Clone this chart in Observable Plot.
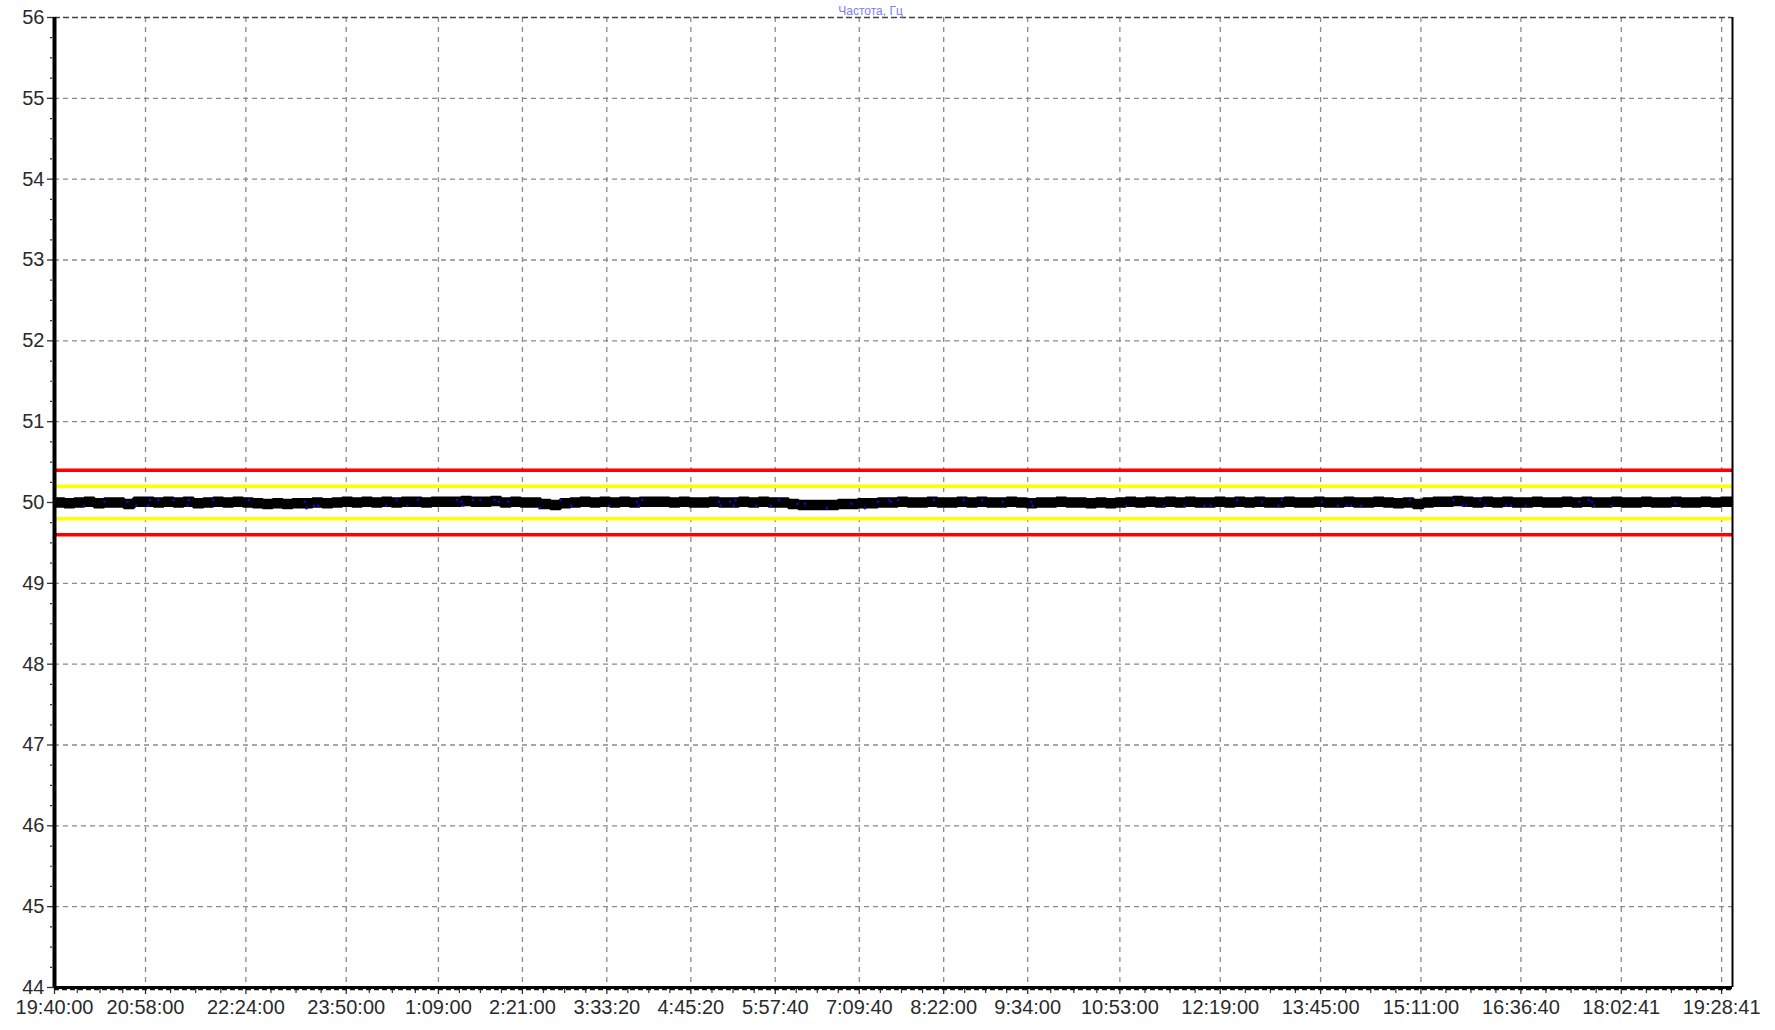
<!DOCTYPE html>
<html>
<head>
<meta charset="utf-8">
<script src="https://cdn.jsdelivr.net/npm/d3@7"></script>
<script src="https://cdn.jsdelivr.net/npm/@observablehq/plot@0.6"></script>
<style>
  html, body { margin: 0; padding: 0; background: #fff; }
  #chart svg { display: block; }
</style>
</head>
<body>
<div id="chart"></div>
<script>
// ---- data ----
const chartTitle = "Частота, Гц";
const startTime = "19:40:00";
const endTime = "19:38:00";
const stepMinutes = 8.5;
const freqValues = [
  50.00, 49.99, 50.00, 50.01, 49.99, 50.00, 50.00, 49.98, 50.01, 50.01,
  50.00, 50.01, 50.00, 50.01, 49.99, 50.00, 50.01, 50.00, 50.01, 50.00,
  49.99, 49.98, 49.99, 49.98, 49.99, 49.99, 50.00, 49.99, 50.00, 50.01,
  50.00, 50.01, 50.00, 50.01, 50.00, 50.01, 50.01, 50.00, 50.01, 50.01,
  50.01, 50.02, 50.01, 50.01, 50.02, 50.00, 50.01, 50.00, 50.00, 49.98,
  49.97, 49.99, 50.00, 50.01, 50.00, 50.01, 50.00, 50.01, 50.00, 50.01,
  50.01, 50.01, 50.00, 50.01, 50.00, 50.00, 50.01, 50.00, 50.00, 50.01,
  50.00, 50.01, 50.00, 50.00, 49.98, 49.97, 49.97, 49.97, 49.97, 49.98,
  49.98, 49.99, 49.99, 50.00, 50.00, 50.01, 50.00, 50.00, 50.01, 50.00,
  50.00, 50.01, 50.00, 50.01, 50.00, 50.00, 50.01, 50.00, 49.99, 50.00,
  50.00, 50.01, 50.00, 50.00, 49.99, 50.00, 49.99, 50.00, 50.01, 50.00,
  50.01, 50.00, 50.01, 50.00, 50.01, 50.00, 50.00, 50.01, 50.00, 50.01,
  50.00, 50.01, 50.00, 50.00, 50.01, 50.00, 50.00, 50.01, 50.00, 50.00,
  50.01, 50.00, 50.00, 50.01, 50.00, 49.99, 50.00, 49.98, 50.00, 50.01,
  50.01, 50.02, 50.01, 50.00, 50.01, 50.00, 50.01, 50.00, 50.00, 50.01,
  50.00, 50.00, 50.01, 50.00, 50.01, 50.00, 50.00, 50.01, 50.00, 50.00,
  50.01, 50.00, 50.00, 50.01, 50.00, 50.00, 50.01, 50.00, 50.01, 50.01,
  50.01
];
const dotMinutes = [
  25, 43, 62.5, 70, 80, 81.7, 89, 102, 114, 115, 136, 166.5, 214.5, 216, 222.5, 226,
  284.4, 293, 302.4, 311.5, 345, 348.7, 350.4, 358.7, 365, 377, 380.6, 388.7, 415.8, 433.7, 443,
  475.2, 499, 500.6, 503.7, 569.4, 571, 579, 582, 583.7, 601.4, 614, 620.8, 636.8, 643.1,
  661.9, 683, 694.5, 705.6, 715, 716.8, 723, 753.6, 779, 795, 812.7, 837, 838.4, 918.4,
  950.7, 968.3, 985.5, 990.6, 1013.5, 1034.9, 1048.9, 1051.7, 1086.3, 1099.7, 1107.7, 1111.1,
  1119.7, 1161.7, 1198.8, 1206.8, 1209.9, 1221.9, 1226.5, 1243.9, 1248.2, 1260.8, 1306.7,
  1314.7, 1317.6, 1319.6, 1334.4, 1389
];
const dotValues = [
  49.96, 50.01, 50.01, 49.96, 49.96, 50.03, 50.03, 50.03, 49.96, 50.03, 50.03, 50.03, 50.01, 49.93, 49.96, 49.96,
  49.96, 50.03, 49.96, 50.03, 50.03, 50.01, 49.96, 50.03, 50.03, 50.03, 50.01, 50.01, 49.93, 50.03, 49.96,
  49.96, 50.01, 49.96, 50.03, 50.01, 49.96, 50.01, 49.96, 50.03, 49.96, 49.96, 50.03, 49.985, 49.985,
  49.93, 49.985, 49.93, 50.01, 50.03, 50.01, 50.03, 50.03, 50.03, 50.03, 50.01, 50.01, 49.96, 49.96,
  49.96, 49.96, 49.96, 49.96, 50.03, 50.01, 49.96, 50.03, 50.01, 49.96, 49.96, 49.96,
  49.96, 50.03, 50.03, 49.96, 49.96, 50.03, 49.96, 49.96, 49.96, 49.96, 50.01,
  50.03, 50.01, 49.96, 49.96, 49.985
];
const tickLabels = [
  "19:40:00", "20:58:00", "22:24:00", "23:50:00", "1:09:00", "2:21:00", "3:33:20",
  "4:45:20", "5:57:40", "7:09:40", "8:22:00", "9:34:00", "10:53:00", "12:19:00",
  "13:45:00", "15:11:00", "16:36:40", "18:02:41", "19:28:41"
];
const redLimits = [50.4, 49.6];
const yellowLimits = [50.2, 49.8];
const yTicks = [44, 45, 46, 47, 48, 49, 50, 51, 52, 53, 54, 55, 56];

// ---- helpers ----
const MIN = 60000;
function parseClock(s) {
  const [h, m, sec] = s.split(":").map(Number);
  const startParts = startTime.split(":").map(Number);
  const tod = h * 3600 + m * 60 + sec;
  const startTod = startParts[0] * 3600 + startParts[1] * 60 + startParts[2];
  const day = tod < startTod ? 2 : 1;
  return new Date(Date.UTC(2021, 0, day, h, m, sec));
}
const t0 = parseClock(startTime);
const t1 = parseClock(endTime);
const series = freqValues.map((v, i) => ({t: new Date(+t0 + i * stepMinutes * MIN), v}));
const dots = dotMinutes.map((m, i) => ({t: new Date(+t0 + m * MIN), v: dotValues[i]}));
const tickDates = tickLabels.map(parseClock);
const labelByTime = new Map(tickDates.map((d, i) => [+d, tickLabels[i]]));
const minorX = [];
for (let i = 0; i + 1 < tickDates.length; i++) {
  const a = +tickDates[i], b = +tickDates[i + 1];
  for (let k = 1; k < 4; k++) minorX.push(new Date(a + (b - a) * k / 4));
}
{
  const a = +tickDates[tickDates.length - 2], b = +tickDates[tickDates.length - 1];
  const step = (b - a) / 4;
  for (let t = b + step; t <= +t1; t += step) minorX.push(new Date(t));
}
const minorY = [];
for (let i = 0; i + 1 < yTicks.length; i++) {
  for (let k = 1; k < 4; k++) minorY.push(yTicks[i] + k / 4);
}

const gridColor = "#8a8a8a";
const chart = Plot.plot({
  width: 1775,
  height: 1030,
  marginLeft: 54,
  marginRight: 43,
  marginTop: 17,
  marginBottom: 43,
  style: {fontFamily: "'Liberation Sans', Arial, sans-serif", fontSize: "20px", color: "#222", background: "#fff", overflow: "visible"},
  x: {type: "utc", domain: [t0, t1]},
  y: {domain: [44, 56]},
  marks: [
    Plot.gridY(yTicks.slice(1, -1), {stroke: gridColor, strokeOpacity: 1, strokeWidth: 1.3, strokeDasharray: "5,4"}),
    Plot.gridX(tickDates.slice(1), {stroke: gridColor, strokeOpacity: 1, strokeWidth: 1.3, strokeDasharray: "5,5"}),
    Plot.ruleY([56], {stroke: "#444", strokeWidth: 1.6, strokeDasharray: "6,3"}),
    Plot.ruleY(redLimits, {stroke: "#ff0000", strokeWidth: 3.5}),
    Plot.ruleY(yellowLimits, {stroke: "#ffff00", strokeWidth: 3.5}),
    Plot.line(series, {x: "t", y: "v", stroke: "#000", strokeWidth: 10.5, curve: "step-after", strokeLinejoin: "miter", strokeLinecap: "butt", clip: true}),
    Plot.dot(dots, {x: "t", y: "v", r: 1.3, fill: "#0a0ad8", stroke: "none"}),
    // minor ticks
    Plot.ruleX(minorX, {y1: 44, y2: 44, insetTop: 2, insetBottom: -6, stroke: "#333", strokeWidth: 1.2}),
    Plot.ruleY(minorY, {x1: t0, x2: t0, insetLeft: -4, insetRight: 2, stroke: "#333", strokeWidth: 1.2}),
    // axes
    Plot.axisX(tickDates, {tickSize: 7, tickPadding: 5, tickFormat: d => labelByTime.get(+d), fontSize: 20, stroke: "#333", strokeWidth: 1.3, fill: "#2a2a2a", label: null}),
    Plot.axisY(yTicks, {tickSize: 7, tickPadding: 3, tickFormat: d => String(d), fontSize: 20, stroke: "#333", strokeWidth: 1.3, fill: "#2a2a2a", label: null}),
    Plot.ruleY([44], {stroke: "#111", strokeWidth: 1.6, strokeDasharray: "5,3", dy: 2}),
    Plot.ruleY([44], {stroke: "#000", strokeWidth: 3}),
    Plot.ruleX([t0], {stroke: "#000", strokeWidth: 4}),
    Plot.ruleX([t1], {stroke: "#000", strokeWidth: 2}),
    Plot.text([chartTitle], {frameAnchor: "top", dx: -23, dy: -3, lineAnchor: "bottom", fill: "#7b7bff", fontSize: 12})
  ]
});
document.getElementById("chart").appendChild(chart);
</script>
</body>
</html>
